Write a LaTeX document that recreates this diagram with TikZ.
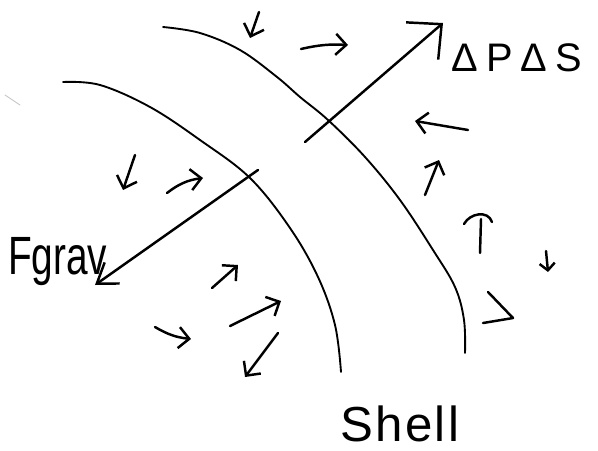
\documentclass[tikz,border=0pt]{standalone}
\usepackage{fontspec}
\setmainfont{Liberation Sans}
\usetikzlibrary{arrows.meta}
\tikzset{
  hand/.style={line width=2.1pt, line cap=round, line join=round, black},
  arcline/.style={line width=1.6pt, line cap=round, black},
  sarr/.style={hand, -{Straight Barb[length=9pt,width=18pt]}},
  lbl/.style={inner sep=0pt, anchor=base west}
}
\begin{document}
\begin{tikzpicture}[x=0.03cm,y=-0.03cm]
\useasboundingbox (0,0) rectangle (598,450);
% shells
\draw[arcline] plot[smooth, tension=0.6] coordinates {(63,82) (100,85) (150,107) (200,140) (250,178) (290,228) (318,277) (335,325) (341,372)};
\draw[arcline] plot[smooth, tension=0.6] coordinates {(163,27) (200,33) (240,50) (277,77) (300,97) (328,120) (365,157) (400,200) (433,250) (455,287) (464,320) (465,353)};
% labels
\node[lbl, font=\fontsize{34}{36}\selectfont] (dpds) at (451,71) {Δ\hspace{7pt}P\hspace{7pt}Δ\hspace{7pt}S};
\node[lbl, font=\fontsize{46}{48}\selectfont, xscale=0.72] (fgrav) at (8,274) {Fgrav};
\node[lbl, font=\fontsize{42}{44}\selectfont] (shell) at (340,441) {S\hspace{2pt}h\hspace{2pt}e\hspace{2pt}l\hspace{2pt}l};
% big arrows
\coordinate (b1s) at (305,142); \coordinate (b1e) at (443,23);
\draw[hand, -{Straight Barb[length=22pt,width=42pt]}] (b1s) -- (b1e);
\coordinate (b2s) at (258,170); \coordinate (b2e) at (95,285);
\draw[hand, -{Straight Barb[length=16pt,width=22pt]}] (b2s) -- (b2e);
% small arrows
\coordinate (a1s) at (259,12);  \coordinate (a1e) at (250,38);
\coordinate (a2s) at (301,49);  \coordinate (a2e) at (348,45);
\coordinate (a4s) at (135,155); \coordinate (a4e) at (123,190);
\coordinate (a5s) at (167,193); \coordinate (a5e) at (203,178);
\coordinate (a6s) at (468,130); \coordinate (a6e) at (415,121);
\coordinate (a7s) at (425,195); \coordinate (a7e) at (439,160);
\coordinate (a9s) at (546,251); \coordinate (a9e) at (548,272);
\coordinate (a11s) at (212,288); \coordinate (a11e) at (238,265);
\coordinate (a12s) at (230,326); \coordinate (a12e) at (281,301);
\coordinate (a13s) at (278,333); \coordinate (a13e) at (245,377);
\coordinate (a14s) at (155,327); \coordinate (a14e) at (191,339);
\draw[sarr] (a1s) -- (a1e);
\draw[sarr] (a2s) to[bend left=8] (a2e);
\draw[sarr] (a4s) -- (a4e);
\draw[sarr] (a5s) to[bend left=15] (a5e);
\draw[sarr] (a6s) -- (a6e);
\draw[sarr] (a7s) -- (a7e);
\draw[sarr, -{Straight Barb[length=6pt,width=13pt]}] (a9s) -- (a9e);
\draw[sarr] (a11s) -- (a11e);
\draw[sarr] (a12s) -- (a12e);
\draw[sarr] (a13s) -- (a13e);
\draw[sarr] (a14s) to[bend right=12] (a14e);
% T-shaped up arrow
\coordinate (ts) at (480,253); \coordinate (te) at (481,219);
\coordinate (tl) at (464,224); \coordinate (tr) at (492,222);
\draw[hand] (ts) -- (te);
\draw[hand] (tl) .. controls (470,213) and (488,210) .. (tr);
% hook arrow
\coordinate (h1) at (488,292); \coordinate (h2) at (513,318); \coordinate (h3) at (483,323);
\draw[hand] (h1) -- (h2) -- (h3);
% faint mark
\coordinate (f1) at (20,105); \coordinate (f2) at (5,95);
\draw[gray!45, line width=0.8pt, line cap=round] (f1) -- (f2);
\end{tikzpicture}
\end{document}
